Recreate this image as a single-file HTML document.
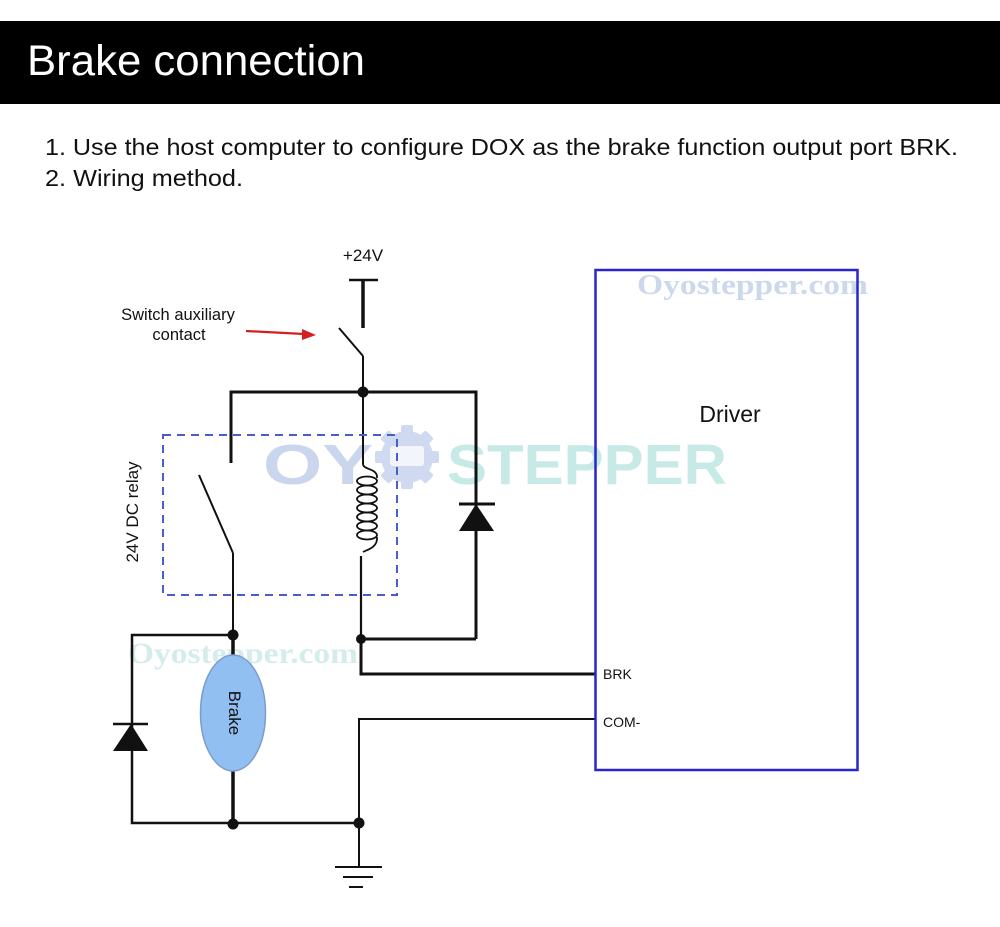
<!DOCTYPE html>
<html>
<head>
<meta charset="utf-8">
<style>
  html,body{margin:0;padding:0;background:#fff;}
  body{width:1000px;height:927px;overflow:hidden;}
  svg{display:block;}
</style>
</head>
<body>
<svg width="1000" height="927" viewBox="0 0 1000 927" xmlns="http://www.w3.org/2000/svg" font-family="'Liberation Sans', sans-serif">
  <!-- header bar -->
  <rect x="0" y="21" width="1000" height="83" fill="#000"/>
  <text x="27" y="75" font-size="43" fill="#fff" textLength="338" lengthAdjust="spacingAndGlyphs">Brake connection</text>

  <text x="45" y="155" font-size="23.5" fill="#111" textLength="913" lengthAdjust="spacingAndGlyphs">1. Use the host computer to configure DOX as the brake function output port BRK.</text>
  <text x="45" y="186" font-size="23.5" fill="#111" textLength="198" lengthAdjust="spacingAndGlyphs">2. Wiring method.</text>

  <!-- watermarks -->
  <g opacity="0.75">
    <text x="263" y="484" font-size="57" font-weight="bold" fill="#b9c9e7" textLength="110" lengthAdjust="spacingAndGlyphs">OY</text>
    <!-- gear -->
    <g fill="#c0cdea">
      <circle cx="407" cy="457" r="26"/>
      <g>
        <rect x="401" y="425" width="12" height="10" rx="2"/>
        <rect x="401" y="425" width="12" height="10" rx="2" transform="rotate(45 407 457)"/>
        <rect x="401" y="425" width="12" height="10" rx="2" transform="rotate(90 407 457)"/>
        <rect x="401" y="425" width="12" height="10" rx="2" transform="rotate(135 407 457)"/>
        <rect x="401" y="425" width="12" height="10" rx="2" transform="rotate(180 407 457)"/>
        <rect x="401" y="425" width="12" height="10" rx="2" transform="rotate(225 407 457)"/>
        <rect x="401" y="425" width="12" height="10" rx="2" transform="rotate(270 407 457)"/>
        <rect x="401" y="425" width="12" height="10" rx="2" transform="rotate(315 407 457)"/>
      </g>
    </g>
    <rect x="390" y="446" width="34" height="20" rx="3" fill="#eef2fa"/>
    <text x="447" y="484" font-size="57" font-weight="bold" fill="#b6e3df" textLength="280" lengthAdjust="spacingAndGlyphs">STEPPER</text>
    <text x="637" y="294" font-size="29" font-weight="bold" font-family="'Liberation Serif', serif" fill="#bccde8" textLength="231" lengthAdjust="spacingAndGlyphs">Oyostepper.com</text>
    <text x="128" y="663" font-size="30" font-weight="bold" font-family="'Liberation Serif', serif" fill="#c6e8e4" textLength="230" lengthAdjust="spacingAndGlyphs">Oyostepper.com</text>
  </g>

  <!-- +24V -->
  <text x="363" y="261" font-size="17" fill="#111" text-anchor="middle">+24V</text>
  <line x1="349" y1="280" x2="378" y2="280" stroke="#111" stroke-width="2.5"/>
  <line x1="363" y1="280" x2="363" y2="328" stroke="#111" stroke-width="3.5"/>
  <!-- aux switch -->
  <line x1="339" y1="328" x2="363" y2="356" stroke="#111" stroke-width="2"/>
  <line x1="363" y1="356" x2="363" y2="392" stroke="#111" stroke-width="2"/>

  <!-- label -->
  <text x="178" y="320" font-size="16.5" fill="#111" text-anchor="middle">Switch auxiliary</text>
  <text x="179" y="340" font-size="16.5" fill="#111" text-anchor="middle">contact</text>
  <!-- red arrow -->
  <line x1="246" y1="331" x2="304" y2="334" stroke="#d42020" stroke-width="2.2"/>
  <polygon points="316,335 302,329 302,340" fill="#d42020"/>

  <!-- top bus -->
  <polyline points="231,463 231,392 476,392 476,639" fill="none" stroke="#111" stroke-width="3"/>
  <circle cx="363" cy="392" r="5.5" fill="#111"/>

  <!-- relay switch -->
  <line x1="199" y1="475" x2="233" y2="553" stroke="#111" stroke-width="2"/>
  <line x1="233" y1="553" x2="233" y2="635" stroke="#111" stroke-width="2"/>

  <!-- coil -->
  <line x1="363" y1="392" x2="363" y2="464" stroke="#111" stroke-width="2"/>
  <path d="M363 464 C363 470 378 468 377 478" fill="none" stroke="#111" stroke-width="1.8"/>
  <g fill="none" stroke="#111" stroke-width="1.8">
    <ellipse cx="367" cy="481" rx="10" ry="4.5"/>
    <ellipse cx="367" cy="490" rx="10" ry="4.5"/>
    <ellipse cx="367" cy="499" rx="10" ry="4.5"/>
    <ellipse cx="367" cy="508" rx="10" ry="4.5"/>
    <ellipse cx="367" cy="517" rx="10" ry="4.5"/>
    <ellipse cx="367" cy="526" rx="10" ry="4.5"/>
    <ellipse cx="367" cy="535" rx="10" ry="4.5"/>
  </g>
  <path d="M377 537 C378 548 366 550 363 552" fill="none" stroke="#111" stroke-width="1.8"/>
  <line x1="361" y1="556" x2="361" y2="639" stroke="#111" stroke-width="2.2"/>

  <!-- relay dashed box -->
  <rect x="163" y="435" width="234" height="160" fill="none" stroke="#4a5ec8" stroke-width="2" stroke-dasharray="8,6"/>
  <text transform="translate(138 512) rotate(-90)" font-size="17" fill="#111" text-anchor="middle">24V DC relay</text>

  <!-- right diode -->
  <line x1="459" y1="504" x2="495" y2="504" stroke="#111" stroke-width="3"/>
  <polygon points="476,504 459,531 494,531" fill="#111"/>

  <!-- lower right wiring -->
  <polyline points="476,639 361,639" fill="none" stroke="#111" stroke-width="3"/>
  <circle cx="361" cy="639" r="5" fill="#111"/>
  <polyline points="361,639 361,674 595,674" fill="none" stroke="#111" stroke-width="3"/>
  <polyline points="595,719 359,719 359,823" fill="none" stroke="#111" stroke-width="2"/>

  <!-- left brake loop -->
  <polyline points="233,635 132,635 132,823 359,823" fill="none" stroke="#111" stroke-width="2.5"/>
  <line x1="233" y1="635" x2="233" y2="660" stroke="#111" stroke-width="3.5"/>
  <line x1="233" y1="768" x2="233" y2="823" stroke="#111" stroke-width="3.5"/>
  <circle cx="233" cy="635" r="5.5" fill="#111"/>
  <circle cx="233" cy="824" r="5.5" fill="#111"/>
  <circle cx="359" cy="823" r="5.5" fill="#111"/>
  <!-- left diode -->
  <line x1="113" y1="724" x2="148" y2="724" stroke="#111" stroke-width="2.5"/>
  <polygon points="131,724 113,751 148,751" fill="#111"/>

  <!-- brake ellipse -->
  <ellipse cx="233" cy="713" rx="32.5" ry="58" fill="#92bff2" stroke="#7b9ccb" stroke-width="1.5"/>
  <text transform="translate(229 713) rotate(90)" font-size="17" fill="#111" text-anchor="middle">Brake</text>

  <!-- ground -->
  <line x1="359" y1="823" x2="359" y2="867" stroke="#111" stroke-width="2"/>
  <line x1="335" y1="867" x2="382" y2="867" stroke="#111" stroke-width="2"/>
  <line x1="343" y1="877" x2="373" y2="877" stroke="#111" stroke-width="2"/>
  <line x1="349" y1="887" x2="363" y2="887" stroke="#111" stroke-width="2"/>

  <!-- driver box -->
  <rect x="595.5" y="270" width="262" height="500" fill="none" stroke="#2626cc" stroke-width="2.5"/>
  <text x="730" y="422" font-size="23" fill="#111" text-anchor="middle">Driver</text>
  <text x="603" y="679" font-size="14" fill="#111">BRK</text>
  <text x="603" y="727" font-size="14" fill="#111">COM-</text>
</svg>
</body>
</html>
